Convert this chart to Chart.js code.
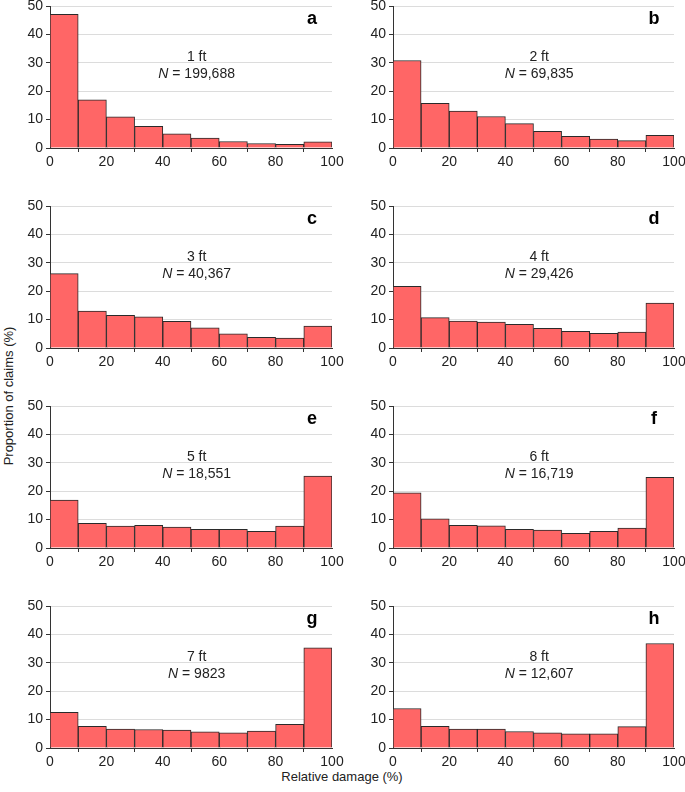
<!DOCTYPE html>
<html>
<head>
<meta charset="utf-8">
<script src="https://cdn.jsdelivr.net/npm/chart.js@4.4.1/dist/chart.umd.min.js"></script>
<style>
  body { margin: 0; background: #fff; font-family: "Liberation Sans", Arial, sans-serif; }
  #wrap { position: relative; width: 685px; height: 792px; }
  .panel { position: absolute; height: 200px; }
  #ytitle { position: absolute; left: 8px; top: 396px; transform: translate(-50%, -50%) rotate(-90deg);
    font-size: 13px; color: #222; white-space: nowrap; }
  #xtitle { position: absolute; left: 342px; top: 776px; transform: translate(-50%, -50%);
    font-size: 13px; color: #222; white-space: nowrap; }
</style>
</head>
<body>
<div id="wrap">
  <div id="ytitle">Proportion of claims (%)</div>
  <div id="xtitle">Relative damage (%)</div>
</div>
<script>
// bin edges of relative damage (%)
const binEdges = [0, 10, 20, 30, 40, 50, 60, 70, 80, 90, 100];

const panelLetters = ["a", "b", "c", "d", "e", "f", "g", "h"];
const depths = ["1 ft", "2 ft", "3 ft", "4 ft", "5 ft", "6 ft", "7 ft", "8 ft"];
const counts = ["199,688", "69,835", "40,367", "29,426", "18,551", "16,719", "9823", "12,607"];

// proportion of claims (%) per bin
const ft1 = [47.1, 17.0, 11.0, 7.6, 5.0, 3.5, 2.3, 1.6, 1.3, 2.2];
const ft2 = [30.8, 15.7, 13.0, 11.1, 8.6, 5.9, 4.1, 3.1, 2.6, 4.5];
const ft3 = [26.2, 13.0, 11.5, 11.0, 9.4, 7.1, 5.0, 3.8, 3.5, 7.7];
const ft4 = [21.7, 10.7, 9.5, 9.1, 8.3, 6.9, 5.9, 5.2, 5.6, 15.8];
const ft5 = [16.9, 8.7, 7.7, 8.0, 7.4, 6.6, 6.6, 5.9, 7.7, 25.3];
const ft6 = [19.4, 10.3, 8.0, 7.8, 6.6, 6.3, 5.2, 5.9, 7.0, 24.9];
const ft7 = [12.6, 7.6, 6.7, 6.5, 6.3, 5.7, 5.3, 6.0, 8.3, 35.3];
const ft8 = [13.9, 7.6, 6.7, 6.7, 5.8, 5.3, 5.0, 5.0, 7.5, 36.8];
const series = [ft1, ft2, ft3, ft4, ft5, ft6, ft7, ft8];

const yTicks = [0, 10, 20, 30, 40, 50];

const FONT = "Liberation Sans, Arial, sans-serif";
const wrap = document.getElementById("wrap");

const labelPlugin = {
  id: "panelText",
  afterDraw(chart, args, opts) {
    const ctx = chart.ctx;
    const a = chart.chartArea;
    const cx = a.left + (a.right - a.left) * 0.52;
    ctx.save();
    ctx.fillStyle = "#222";
    ctx.textBaseline = "middle";
    ctx.textAlign = "center";
    ctx.font = "14px " + FONT;
    ctx.fillText(opts.depth, cx, a.top + 51);
    // "N = value" with italic N
    const rest = " = " + opts.count;
    ctx.font = "italic 14px " + FONT;
    const wN = ctx.measureText("N").width;
    ctx.font = "14px " + FONT;
    const wR = ctx.measureText(rest).width;
    const x0 = cx - (wN + wR) / 2;
    ctx.textAlign = "left";
    ctx.font = "italic 14px " + FONT;
    ctx.fillText("N", x0, a.top + 68);
    ctx.font = "14px " + FONT;
    ctx.fillText(rest, x0 + wN, a.top + 68);
    // panel letter
    ctx.font = "bold 18px " + FONT;
    ctx.textAlign = "center";
    ctx.textBaseline = "alphabetic";
    ctx.fillStyle = "#000";
    ctx.fillText(opts.letter, a.right - 20, a.top + 18);
    ctx.restore();
  }
};

series.forEach((vals, i) => {
  const row = Math.floor(i / 2), col = i % 2;
  const div = document.createElement("div");
  div.className = "panel";
  div.style.left = (col * 342) + "px";
  div.style.top = (row * 200) + "px";
  const cv = document.createElement("canvas");
  cv.width = col === 0 ? 352 : 343;
  cv.height = 200;
  div.appendChild(cv);
  wrap.appendChild(div);

  const points = vals.map((v, k) => ({ x: (binEdges[k] + binEdges[k + 1]) / 2, y: v }));

  new Chart(cv, {
    type: "bar",
    data: {
      datasets: [{
        data: points,
        backgroundColor: "rgb(255,102,102)",
        borderColor: "#2a2a2a",
        borderWidth: 1,
        barPercentage: 1,
        categoryPercentage: 1
      }]
    },
    options: {
      responsive: false,
      animation: false,
      devicePixelRatio: 1,
      layout: { padding: { top: 6, left: 0, right: col === 0 ? 20 : 11, bottom: 22 } },
      plugins: {
        legend: { display: false },
        tooltip: { enabled: false },
        panelText: { letter: panelLetters[i], depth: depths[i], count: counts[i] }
      },
      scales: {
        x: {
          type: "linear",
          min: binEdges[0],
          max: binEdges[binEdges.length - 1],
          offset: false,
          afterFit: s => { s.height = 30; s.paddingLeft = 0; s.paddingRight = 0; },
          ticks: { stepSize: 20, color: "#222", font: { size: 14, family: FONT }, padding: 2, maxRotation: 0 },
          grid: { drawOnChartArea: false, drawTicks: true, tickLength: 4, tickColor: "#333" },
          border: { color: "#333", width: 1 }
        },
        y: {
          min: yTicks[0],
          max: yTicks[yTicks.length - 1],
          afterFit: s => { s.width = col === 0 ? 50 : 51; s.paddingTop = 0; s.paddingBottom = 0; },
          afterBuildTicks: s => { s.ticks = yTicks.map(v => ({ value: v })); },
          ticks: { color: "#222", font: { size: 14, family: FONT }, padding: 3 },
          grid: { color: "#dcdcdc", drawTicks: true, tickLength: 4, tickColor: "#333" },
          border: { color: "#333", width: 1 }
        }
      }
    },
    plugins: [labelPlugin]
  });
});
</script>
</body>
</html>
